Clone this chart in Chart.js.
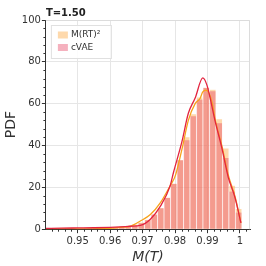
<!DOCTYPE html>
<html lang="en">
<head>
<meta charset="UTF-8">
<title>PDF of M(T)</title>
<script src="https://cdn.jsdelivr.net/npm/chart.js"></script>
<style>
  body { margin: 0; background: #fff; }
</style>
</head>
<body>
<div style="width: 266px; height: 266px;">
  <canvas id="pdfChart" width="266" height="266"></canvas>
</div>
<script>
// histogram bin centres (bin width 0.002)
const binCenters = [0.9415, 0.9435, 0.9455, 0.9475, 0.9495, 0.9515, 0.9535, 0.9555, 0.9575, 0.9595,
                    0.9615, 0.9635, 0.9655, 0.9675, 0.9695, 0.9715, 0.9735, 0.9755, 0.9775, 0.9795,
                    0.9815, 0.9835, 0.9855, 0.9875, 0.9895, 0.9915, 0.9935, 0.9955, 0.9975, 0.9995];
const histRT   = [0.1, 0.1, 0.1, 0.1, 0.2, 0.2, 0.2, 0.3, 0.3, 0.4,
                  0.6, 0.9, 1.5, 2.3, 3.2, 4.5, 7, 10, 15, 21.7,
                  33, 44, 55, 63, 67.6, 66.7, 52.6, 38.6, 20.8, 9.7];
const histCVAE = [0.3, 0.3, 0.4, 0.4, 0.5, 0.5, 0.6, 0.6, 0.7, 0.8,
                  0.9, 1.0, 1.3, 1.8, 2.8, 4.3, 7, 10, 15, 21.7,
                  33, 42.5, 54, 62, 67.6, 66, 50.7, 34, 18, 8];

// smooth density curves
const kdeRTx   = [0.9402, 0.950, 0.955, 0.960, 0.963, 0.9663, 0.9693, 0.9724, 0.9755, 0.9785, 0.9801,
                  0.9821, 0.9841, 0.9862, 0.9877, 0.9885, 0.9895, 0.9905, 0.9915, 0.9923, 0.9944, 0.9964, 0.9985, 1.0003];
const kdeRTy   = [0.1, 0.15, 0.2, 0.4, 0.9, 1.5, 3.9, 7, 12.7, 20.8, 25.6,
                  38, 52, 60, 62.5, 65.5, 66.5, 65, 60, 53, 40, 26, 15.5, 3];
const kdeCVAEx = [0.9402, 0.945, 0.950, 0.955, 0.960, 0.963, 0.9663, 0.9693, 0.9724, 0.9755, 0.9785, 0.9795,
                  0.9821, 0.9841, 0.9862, 0.98855, 0.9898, 0.9908, 0.9923, 0.9944, 0.9964, 0.9985, 1.0003];
const kdeCVAEy = [0.4, 0.5, 0.6, 0.7, 0.9, 1.1, 1.4, 1.8, 4.8, 11, 20.8, 27,
                  41.7, 55.4, 62.7, 72.3, 69, 62.8, 52, 39, 24.8, 15, 3];

const xTickValues = [0.95, 0.96, 0.97, 0.98, 0.99, 1.0];
const xTickLabels = ['0.95', '0.96', '0.97', '0.98', '0.99', '1'];
const seriesLabels = ['M(RT)\u00B2', 'cVAE'];
const titleText = 'T=1.50';

const FONT = "'DejaVu Sans', sans-serif";
const rtFill = 'rgba(253, 180, 90, 0.5)';
const cvaeFill = 'rgba(232, 70, 100, 0.42)';

const toPoints = (xs, ys) => xs.map((x, i) => ({ x: x, y: ys[i] }));

// frame, minor ticks, title and legend drawn on top of the chart
const decorPlugin = {
    id: 'decor',
    beforeDatasetsDraw(chart) {
        const { ctx, chartArea: a } = chart;
        ctx.save();
        ctx.strokeStyle = '#dcdcdc';
        ctx.lineWidth = 1;
        ctx.beginPath();
        ctx.moveTo(a.left, a.top + 0.5);
        ctx.lineTo(a.right - 0.5, a.top + 0.5);
        ctx.lineTo(a.right - 0.5, a.bottom);
        ctx.stroke();
        ctx.restore();
    },
    afterDraw(chart) {
        const { ctx, chartArea: a } = chart;
        const xs = chart.scales.x, ys = chart.scales.y;
        ctx.save();
        ctx.strokeStyle = '#333';
        ctx.lineWidth = 1;
        ctx.beginPath();
        for (let k = 471; k <= 501; k++) {
            if (k % 5 === 0) continue;
            const px = Math.round(xs.getPixelForValue(k * 0.002)) + 0.5;
            ctx.moveTo(px, a.bottom);
            ctx.lineTo(px, a.bottom + 2.5);
        }
        for (let v = 4; v < 100; v += 4) {
            if (v % 20 === 0) continue;
            const py = Math.round(ys.getPixelForValue(v)) + 0.5;
            ctx.moveTo(a.left - 2.5, py);
            ctx.lineTo(a.left, py);
        }
        ctx.stroke();

        // title
        ctx.fillStyle = '#222';
        ctx.font = "bold 10px " + FONT;
        ctx.textBaseline = 'alphabetic';
        ctx.textAlign = 'left';
        ctx.fillText(titleText, a.left, a.top - 4);

        // legend box
        const bx = a.left + 5, by = a.top + 5, bw = 60, bh = 33;
        ctx.fillStyle = 'rgba(255,255,255,0.85)';
        ctx.fillRect(bx, by, bw, bh);
        ctx.strokeStyle = '#e0e0e0';
        ctx.strokeRect(bx + 0.5, by + 0.5, bw, bh);
        const fills = [rtFill, cvaeFill];
        ctx.font = "9px " + FONT;
        ctx.textBaseline = 'middle';
        seriesLabels.forEach((lab, i) => {
            const ry = by + 10 + i * 12.5;
            ctx.fillStyle = fills[i];
            ctx.fillRect(bx + 7, ry - 3.5, 10, 7);
            ctx.fillStyle = '#333';
            ctx.fillText(lab, bx + 20, ry);
        });
        ctx.restore();
    }
};

const ctx = document.getElementById('pdfChart').getContext('2d');

const pdfChart = new Chart(ctx, {
    data: {
        datasets: [
            {
                type: 'line',
                label: 'cVAE density',
                data: toPoints(kdeCVAEx, kdeCVAEy),
                borderColor: '#e3243f',
                borderWidth: 1.3,
                pointRadius: 0,
                cubicInterpolationMode: 'monotone',
                order: 0
            },
            {
                type: 'line',
                label: 'M(RT)2 density',
                data: toPoints(kdeRTx, kdeRTy),
                borderColor: '#f7a21b',
                borderWidth: 1.3,
                pointRadius: 0,
                cubicInterpolationMode: 'monotone',
                order: 1
            },
            {
                type: 'bar',
                label: seriesLabels[1],
                data: toPoints(binCenters, histCVAE),
                backgroundColor: cvaeFill,
                borderColor: 'rgba(255,255,255,0.3)',
                borderWidth: { left: 1, right: 0, top: 0, bottom: 0 },
                borderSkipped: false,
                grouped: false,
                barPercentage: 1,
                categoryPercentage: 1,
                order: 2
            },
            {
                type: 'bar',
                label: seriesLabels[0],
                data: toPoints(binCenters, histRT),
                backgroundColor: rtFill,
                borderColor: 'rgba(255,255,255,0.3)',
                borderWidth: { left: 1, right: 0, top: 0, bottom: 0 },
                borderSkipped: false,
                grouped: false,
                barPercentage: 1,
                categoryPercentage: 1,
                order: 3
            }
        ]
    },
    options: {
        responsive: false,
        animation: false,
        layout: { padding: { left: 3, right: 16, top: 20, bottom: 0 } },
        plugins: {
            legend: { display: false },
            tooltip: { enabled: false },
            title: { display: false }
        },
        scales: {
            x: {
                type: 'linear',
                offset: false,
                min: 0.9402,
                max: 1.0031,
                afterBuildTicks: (scale) => {
                    scale.ticks = xTickValues.map(v => ({ value: v }));
                },
                ticks: {
                    callback: (value, index) => xTickLabels[index],
                    font: { family: FONT, size: 10 },
                    color: '#333',
                    padding: 2,
                    maxRotation: 0
                },
                grid: { color: '#e6e6e6', tickColor: '#333', tickLength: 4, offset: false },
                border: { color: '#333', width: 1 },
                title: {
                    display: true,
                    text: 'M(T)',
                    font: { family: FONT, size: 14, style: 'italic' },
                    color: '#333',
                    padding: { top: 0, bottom: 0 }
                }
            },
            y: {
                min: 0,
                max: 100,
                ticks: {
                    stepSize: 20,
                    font: { family: FONT, size: 10 },
                    color: '#333',
                    padding: 1
                },
                grid: { color: '#e6e6e6', tickColor: '#333', tickLength: 4 },
                border: { color: '#333', width: 1 },
                title: {
                    display: true,
                    text: 'PDF',
                    font: { family: FONT, size: 14 },
                    color: '#333',
                    padding: { top: 0, bottom: 1 }
                }
            }
        }
    },
    plugins: [decorPlugin]
});
</script>
</body>
</html>
